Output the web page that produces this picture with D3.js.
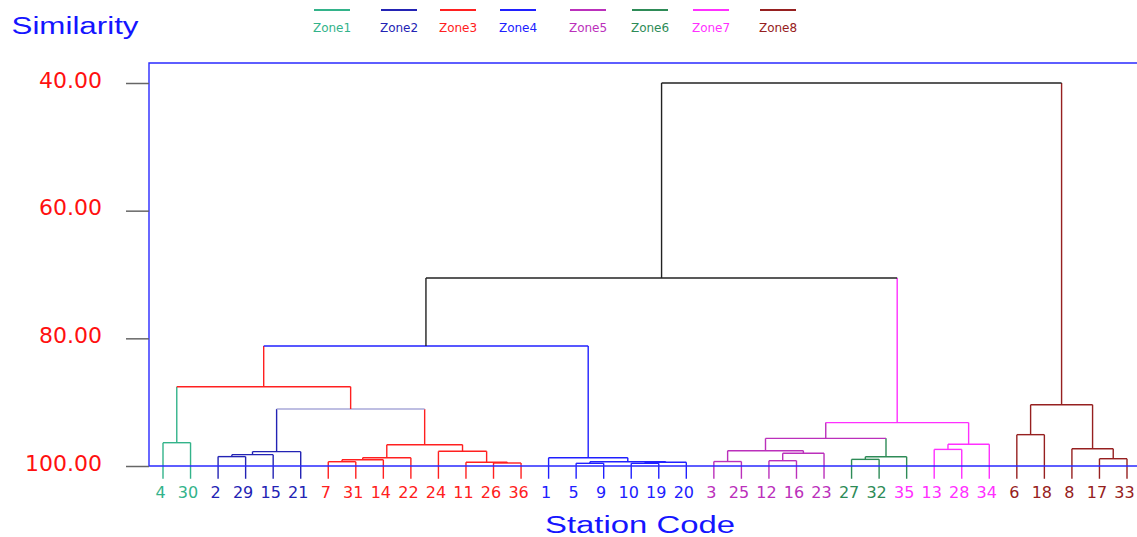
<!DOCTYPE html>
<html>
<head>
<meta charset="utf-8">
<script src="https://cdn.jsdelivr.net/npm/d3@7"></script>
<style>
body { margin: 0; background: #fff; }
</style>
</head>
<body>
<svg width="1137" height="537"></svg>
<script>
(function(d3) {
    "use strict";

// station codes in dendrogram order, and the zone each one belongs to
var leaves = ["4", "30", "2", "29", "15", "21", "7", "31", "14", "22", "24", "11", "26", "36",
              "1", "5", "9", "10", "19", "20", "3", "25", "12", "16", "23", "27", "32", "35",
              "13", "28", "34", "6", "18", "8", "17", "33"];
var leafZone = [1, 1, 2, 2, 2, 2, 3, 3, 3, 3, 3, 3, 3, 3,
                4, 4, 4, 4, 4, 4, 5, 5, 5, 5, 5, 6, 6, 7,
                7, 7, 7, 8, 8, 8, 8, 8];

var zones = ["Zone1", "Zone2", "Zone3", "Zone4", "Zone5", "Zone6", "Zone7", "Zone8"];

// merges: [child a, child b, similarity]; "mN" refers to merge N
var merges = [
    ["4", "30", 96.35],
    ["2", "29", 98.53],
    ["m1", "15", 98.22],
    ["m2", "21", 97.75],
    ["7", "31", 99.33],
    ["m4", "14", 99.02],
    ["m5", "22", 98.7],
    ["26", "36", 99.53],
    ["11", "m7", 99.42],
    ["24", "m8", 97.7],
    ["m6", "m9", 96.66],
    ["m3", "m10", 91.07],
    ["m0", "m11", 87.58],
    ["5", "9", 99.58],
    ["10", "19", 99.58],
    ["m14", "20", 99.42],
    ["m13", "m15", 99.33],
    ["1", "m16", 98.7],
    ["m12", "m17", 81.2],
    ["3", "25", 99.3],
    ["12", "16", 99.17],
    ["m20", "23", 98.0],
    ["m19", "m21", 97.6],
    ["27", "32", 98.96],
    ["m23", "35", 98.55],
    ["m22", "m24", 95.67],
    ["13", "28", 97.4],
    ["m26", "34", 96.6],
    ["m25", "m27", 93.2],
    ["m18", "m28", 70.55],
    ["6", "18", 95.09],
    ["17", "33", 98.86],
    ["8", "m31", 97.3],
    ["m30", "m32", 90.4],
    ["m29", "m33", 40.0]
];
// colour group of each merge's bar, and of the line rising from it (0 = black, 9 = mixed)
var mergeGroup = [1, 2, 2, 2, 3, 3, 3, 3, 3, 3, 3, 9, 3, 4, 4, 4, 4, 4, 4,
                  5, 5, 5, 5, 6, 6, 5, 7, 7, 7, 0, 8, 8, 8, 8, 0];
var upGroup    = [1, 2, 2, 2, 3, 3, 3, 3, 3, 3, 3, 3, 3, 4, 4, 4, 4, 4, 0,
                  5, 5, 5, 5, 6, 6, 5, 7, 7, 7, 0, 8, 8, 8, 8, 0];

var yTicks = [40, 60, 80, 100];

var color = ["#222222", "#33b38a", "#2323b4", "#ff2020", "#2020ff",
             "#bb30bb", "#2e8b57", "#ff30ff", "#962020", "#a8a8d8"];
var legendX = [332, 399, 458, 518, 588, 650, 711, 778];

var svg = d3.select("svg"),
    leafBase = 102,
    axisX = 149,
    frameTop = 63,

    x = d3.scalePoint().domain(leaves).range([163, 1127]),
    y = d3.scaleLinear().domain([40, 100]).range([83, 466]);

// lay out the tree
var nodes = {};
leaves.forEach(function(l) { nodes[l] = { x: x(l), h: leafBase, leaf: true }; });

var segs = [];
merges.forEach(function(m, i) {
    var a = nodes[m[0]], b = nodes[m[1]], h = m[2];
    var barC = color[mergeGroup[i]];
    [a, b].forEach(function(c) {
        segs.push({ x1: c.x, y1: y(c.h), x2: c.x, y2: y(h),
                    c: c.leaf ? barC : color[upGroup[c.idx]] });
    });
    segs.push({ x1: a.x, y1: y(h), x2: b.x, y2: y(h), c: barC });
    nodes["m" + i] = { x: (a.x + b.x) / 2, h: h, idx: i };
});

svg.append("g")
    .selectAll("line")
    .data(segs)
    .enter().append("line")
    .attr("x1", function(d) { return d.x1; })
    .attr("y1", function(d) { return d.y1; })
    .attr("x2", function(d) { return d.x2; })
    .attr("y2", function(d) { return d.y2; })
    .attr("stroke", function(d) { return d.c; })
    .attr("stroke-width", 1.4);

// frame
svg.append("path")
    .attr("fill", "none")
    .attr("stroke", "#2a2aff")
    .attr("stroke-width", 1.4)
    .attr("d", "M1140," + y(100) + "H" + axisX + "V" + frameTop + "H1140");

// y axis
var yAxis = svg.append("g")
    .attr("transform", "translate(" + axisX + ",0)")
    .call(d3.axisLeft(y).tickValues(yTicks).tickFormat(d3.format(".2f"))
        .tickSize(23).tickPadding(24));
yAxis.select(".domain").remove();
yAxis.selectAll(".tick line").attr("stroke", "#666").attr("stroke-width", 1.5);
yAxis.selectAll(".tick text")
    .attr("fill", "#ff1010")
    .attr("font-family", "DejaVu Sans")
    .attr("font-size", 22)
    .attr("dy", 4);

// leaf labels
svg.append("g")
    .selectAll("text")
    .data(leaves)
    .enter().append("text")
    .attr("x", function(d) { return x(d) - 2.5; })
    .attr("y", 498)
    .attr("text-anchor", "middle")
    .attr("font-family", "DejaVu Sans")
    .attr("font-size", 16)
    .attr("fill", function(d, i) { return color[leafZone[i]]; })
    .text(function(d) { return d; });

// legend
var lg = svg.append("g")
    .selectAll("g")
    .data(zones)
    .enter().append("g")
    .attr("transform", function(d, i) { return "translate(" + legendX[i] + ",0)"; });
lg.append("line")
    .attr("x1", -18).attr("x2", 18)
    .attr("y1", 10).attr("y2", 10)
    .attr("stroke", function(d, i) { return color[i + 1]; })
    .attr("stroke-width", 2);
lg.append("text")
    .attr("y", 31.5)
    .attr("text-anchor", "middle")
    .attr("font-family", "DejaVu Sans")
    .attr("font-size", 12)
    .attr("fill", function(d, i) { return color[i + 1]; })
    .text(function(d) { return d; });

// titles
svg.append("text")
    .attr("x", 11.5)
    .attr("y", 34.3)
    .attr("font-family", "Liberation Sans")
    .attr("font-size", 23)
    .attr("fill", "#1515ff")
    .attr("textLength", 127)
    .attr("lengthAdjust", "spacingAndGlyphs")
    .text("Similarity");

svg.append("text")
    .attr("x", 545)
    .attr("y", 533)
    .attr("font-family", "Liberation Sans")
    .attr("font-size", 23)
    .attr("fill", "#1515ff")
    .attr("textLength", 190)
    .attr("lengthAdjust", "spacingAndGlyphs")
    .text("Station Code");

}(d3));
</script>
</body>
</html>
